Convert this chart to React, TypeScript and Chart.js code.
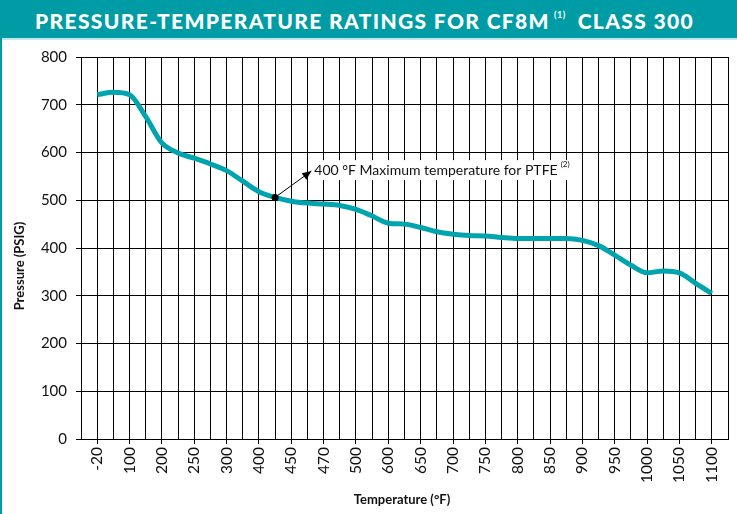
import React, { useEffect, useRef } from "react";
import { Chart, registerables } from "chart.js";

Chart.register(...registerables);

const tempLabels = ["-20", "100", "200", "250", "300", "400", "450", "470", "500", "600", "650", "700", "750", "800", "850", "900", "950", "1000", "1050", "1100"];
// pressure read at every half label step (label index 0, 0.5, 1, ... 19)
const pressure = [721, 726, 721, 675, 620, 599, 588, 576, 562, 540, 518, 506, 498, 494, 492, 489, 481, 467, 452, 450, 443, 434, 429, 426, 425, 422, 420, 420, 420, 420, 416, 405, 385, 364, 348, 352, 348, 326, 305];
const yTicks = [0, 100, 200, 300, 400, 500, 600, 700, 800];
const noteText = "400 °F Maximum temperature for PTFE";
const noteSup = "(2)";
const noteDot = { x: 5.5, y: 506 };
const noteAnchor = { x: 6.62, y: 561 };

const TEAL = "#009ca6";
const LINE = "#00a4ae";
const FONT = "Lato, 'Open Sans', sans-serif";

export default function App() {
  const ref = useRef<HTMLCanvasElement | null>(null);
  useEffect(() => {
    if (!ref.current) return;
    const annot = {
      id: "annot",
      afterDatasetsDraw(chart: any) {
        const c = chart.ctx;
        const xs = chart.scales.x, ys = chart.scales.y;
        const dx = xs.getPixelForValue(noteDot.x), dy = ys.getPixelForValue(noteDot.y);
        const ax = xs.getPixelForValue(noteAnchor.x), ay = ys.getPixelForValue(noteAnchor.y);
        c.save();
        c.font = `14px ${FONT}`;
        const tx = ax + 1, ty = ay - 1;
        const tw = c.measureText(noteText).width;
        c.fillStyle = "#fff";
        c.fillRect(tx, ty - 10, tw + 22, 20);
        c.strokeStyle = "#000";
        c.fillStyle = "#000";
        c.lineWidth = 1;
        c.beginPath();
        c.moveTo(dx, dy);
        c.lineTo(ax, ay);
        c.stroke();
        const ang = Math.atan2(ay - dy, ax - dx);
        const L = 9, W = 4;
        c.beginPath();
        c.moveTo(ax, ay);
        c.lineTo(ax - L * Math.cos(ang) + W * Math.sin(ang), ay - L * Math.sin(ang) - W * Math.cos(ang));
        c.lineTo(ax - L * Math.cos(ang) - W * Math.sin(ang), ay - L * Math.sin(ang) + W * Math.cos(ang));
        c.closePath();
        c.fill();
        c.beginPath();
        c.arc(dx, dy, 3.5, 0, Math.PI * 2);
        c.fill();
        c.textBaseline = "middle";
        c.textAlign = "left";
        c.fillStyle = "#111";
        c.fillText(noteText, tx + 2, ty);
        c.font = `8px ${FONT}`;
        c.fillText(noteSup, tx + tw + 5, ty - 6);
        // axis titles
        c.font = `bold 13px ${FONT}`;
        c.textAlign = "center";
        c.fillText("Temperature (°F)", 402, 500);
        c.save();
        c.translate(20, 266);
        c.rotate(-Math.PI / 2);
        c.fillText("Pressure (PSIG)", 0, 0);
        c.restore();
        c.restore();
      },
    };
    const chart = new Chart(ref.current, {
      type: "line",
      data: {
        datasets: [
          {
            data: pressure.map((v, i) => ({ x: i * 0.5, y: v })),
            borderColor: LINE,
            borderWidth: 5,
            pointRadius: 0,
            tension: 0.4,
            cubicInterpolationMode: "monotone",
            fill: false,
          },
        ],
      },
      options: {
        animation: false,
        responsive: false,
        maintainAspectRatio: false,
        layout: { padding: { top: 57, right: 9, left: 0, bottom: 0 } },
        plugins: { legend: { display: false }, tooltip: { enabled: false } },
        scales: {
          x: {
            type: "linear",
            min: -0.5,
            max: 19.5,
            afterFit: (s: any) => { s.height = 514 - 439; s.paddingLeft = 0; s.paddingRight = 0; },
            afterBuildTicks: (s: any) => {
              const t = [];
              for (let i = -1; i <= 39; i++) t.push({ value: i * 0.5 });
              s.ticks = t;
            },
            ticks: {
              autoSkip: false,
              maxRotation: 90,
              minRotation: 90,
              padding: 3,
              color: "#111",
              font: { size: 15.5, family: FONT },
              callback: (v: any) => {
                const n = Number(v);
                return Number.isInteger(n) && n >= 0 && n < tempLabels.length ? tempLabels[n] : "";
              },
            },
            grid: {
              color: "#000",
              lineWidth: 1,
              tickLength: 5,
              tickColor: (ctx: any) => (Number.isInteger(ctx.tick?.value) ? "#000" : "rgba(0,0,0,0)"),
            },
            border: { color: "#000", width: 1 },
          },
          y: {
            min: 0,
            max: 800,
            afterFit: (s: any) => { s.width = 81; s.paddingTop = 0; s.paddingBottom = 0; },
            afterBuildTicks: (s: any) => { s.ticks = yTicks.map((v) => ({ value: v })); },
            ticks: {
              padding: 9,
              color: "#111",
              font: { size: 15, family: FONT },
            },
            grid: { color: "#000", lineWidth: 1, tickLength: 5 },
            border: { color: "#000", width: 1 },
          },
        },
      },
      plugins: [annot],
    } as any);
    return () => chart.destroy();
  }, []);

  return (
    <div style={{ position: "absolute", left: 0, top: 0, width: 737, height: 514, background: "#fff", overflow: "hidden" }}>
      <canvas ref={ref} width={737} height={514} style={{ position: "absolute", left: 0, top: 0, width: 737, height: 514 }} />
      <div style={{ position: "absolute", left: 0, top: 0, width: 737, height: 40, background: TEAL, borderBottom: "2px solid #bfe8eb", boxSizing: "border-box" }} />
      <div style={{ position: "absolute", left: 0, top: 0, width: 737, height: 40, paddingRight: 8, boxSizing: "border-box", display: "flex", alignItems: "center", justifyContent: "center", color: "#fff", fontFamily: FONT, fontWeight: 900, fontSize: 21, letterSpacing: 1.35, whiteSpace: "nowrap" }}>
        <span>PRESSURE-TEMPERATURE RATINGS FOR CF8M</span>
        <span style={{ fontSize: 9, fontWeight: 700, letterSpacing: 0.5, position: "relative", top: -6, marginLeft: 4, marginRight: 12 }}>(1)</span>
        <span>CLASS 300</span>
      </div>
      <div style={{ position: "absolute", left: 0, top: 0, width: 2, height: 514, background: TEAL }} />
    </div>
  );
}
